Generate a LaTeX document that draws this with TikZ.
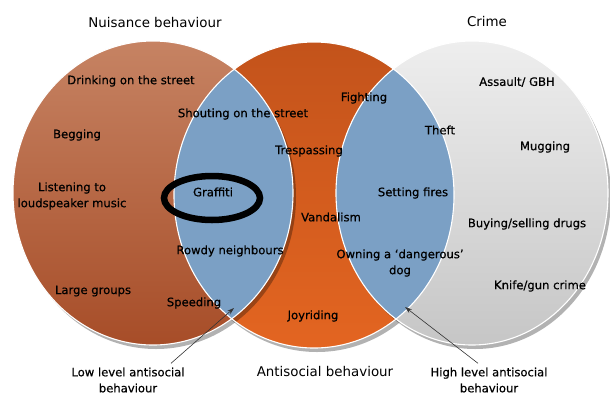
\documentclass[tikz,border=0pt]{standalone}
\usepackage{fontspec}
\setmainfont{DejaVu Sans}
\newfontfamily\lblfont[FakeBold=0.5,Ligatures=TeX]{DejaVu Sans}
\usepackage{xcolor}
\usepackage{tikz}
\usetikzlibrary{arrows.meta,positioning}

\definecolor{nuisTop}{HTML}{C68363}
\definecolor{nuisBot}{HTML}{A74D28}
\definecolor{antiTop}{HTML}{C3531B}
\definecolor{antiBot}{HTML}{E36521}
\definecolor{crimeTop}{HTML}{EEEEEE}
\definecolor{crimeBot}{HTML}{C6C6C6}
\definecolor{lensBlue}{HTML}{7BA0C5}

\newcommand{\nuisset}{(153,193) ellipse [x radius=140, y radius=152]}
\newcommand{\antiset}{(314,195) ellipse [x radius=140, y radius=153]}
\newcommand{\crimeset}{(472,193) ellipse [x radius=136, y radius=152]}

\tikzset{
  lbl/.style={font=\lblfont\fontsize{11.6}{16}\selectfont, align=center, inner sep=0pt},
  heading/.style={font=\fontsize{13.4}{16}\selectfont, align=center, inner sep=0pt},
  shadowfill/.style={fill=black, fill opacity=0.3, shift={(3,4)}},
  rim/.style={draw=white, line width=1.1pt},
  pointer/.style={-{Stealth[length=7pt,width=4.5pt]}, draw=black!80, line width=0.6pt}
}

\begin{document}
\begin{tikzpicture}[x=1pt, y=-1pt]
\useasboundingbox (0,0) rectangle (610,394);

% the three sets
\fill[shadowfill] \antiset;
\shade[top color=antiTop, bottom color=antiBot] \antiset;
\fill[shadowfill] \nuisset;
\shade[top color=nuisTop, bottom color=nuisBot] \nuisset;
\fill[shadowfill] \crimeset;
\shade[top color=crimeTop, bottom color=crimeBot] \crimeset;

% overlaps
\begin{scope}
\clip \nuisset;
\fill[lensBlue] \antiset;
\end{scope}
\begin{scope}
\clip \crimeset;
\fill[lensBlue] \antiset;
\end{scope}
\draw[rim] \antiset;
\draw[rim] \nuisset;
\draw[rim] \crimeset;

% headings
\node[heading] (nuisance) at (155,23) {Nuisance behaviour};
\node[heading] (crime) at (487,22) {Crime};
\node[heading] (antisocial) at (325,371) {Antisocial behaviour};

% nuisance only
\node[lbl] (drinking) at (131,81) {Drinking on the street};
\node[lbl] (begging) at (77,135) {Begging};
\node[lbl] (listening) at (72,196) {Listening to\\loudspeaker music};
\node[lbl] (groups) at (93,291) {Large groups};

% low level
\node[lbl] (shouting) at (243,114) {Shouting on the street};
\node[lbl] (graffiti) at (213,192) {Graffiti};
\node[lbl] (rowdy) at (230,251) {Rowdy neighbours};
\node[lbl] (speeding) at (194,303) {Speeding};

% antisocial only
\node[lbl] (trespassing) at (309,151) {Trespassing};
\node[lbl] (fighting) at (364,98) {Fighting};
\node[lbl] (vandalism) at (331,217) {Vandalism};
\node[lbl] (joyriding) at (313,316) {Joyriding};

% high level
\node[lbl] (theft) at (440,130) {Theft};
\node[lbl] (fires) at (413,193) {Setting fires};
\node[lbl] (dog) at (400,263) {Owning a ‘dangerous’\\dog};

% crime only
\node[lbl] (assault) at (517,82) {Assault/ GBH};
\node[lbl] (mugging) at (545,147) {Mugging};
\node[lbl] (drugs) at (527,224) {Buying/selling drugs};
\node[lbl] (knife) at (540,286) {Knife/gun crime};

% ring round graffiti
\draw[line width=6.5pt] (212,198) ellipse [x radius=48, y radius=22];

% pointers
\node[lbl] (low) at (128,380) {Low level antisocial\\behaviour};
\node[lbl] (high) at (489,380) {High level antisocial\\behaviour};
\coordinate (lowtip) at (234,308);
\coordinate (hightip) at (405,307);
\draw[pointer] ([xshift=43pt, yshift=4pt]low.north) -- (lowtip);
\draw[pointer] ([xshift=-11pt, yshift=4pt]high.north) -- (hightip);
\end{tikzpicture}
\end{document}
